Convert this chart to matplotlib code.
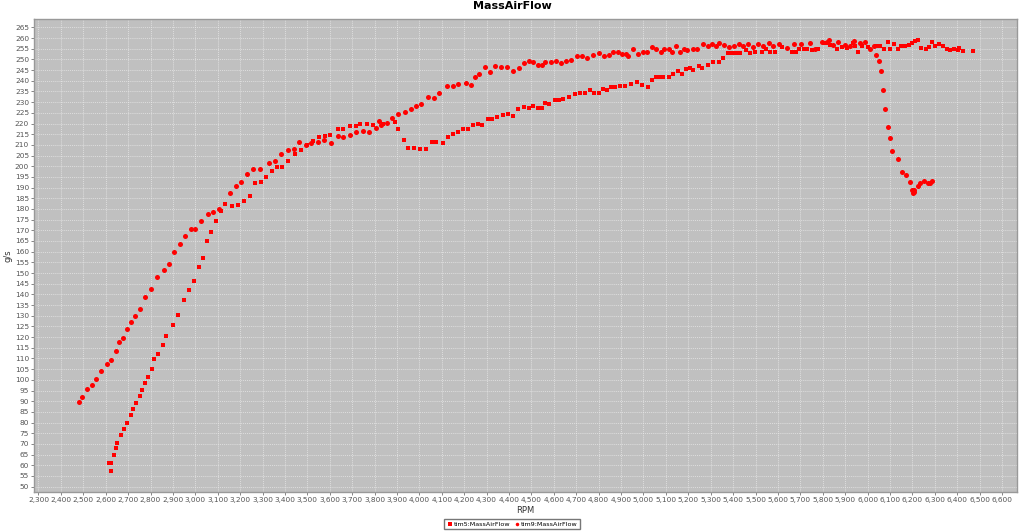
import matplotlib
matplotlib.use("Agg")
import matplotlib.pyplot as plt
from matplotlib.ticker import MultipleLocator, FuncFormatter

plt.rcParams["font.family"] = ["DejaVu Sans"]

# ── 数据───────────────────────────────────────────────────────────────
tim5_rpm = [2624, 2616, 2622, 2637, 2646, 2652, 2668, 2682, 2695, 2712, 2723, 2735,
            2752, 2764, 2775, 2787, 2805, 2816, 2834, 2854, 2871, 2900, 2923, 2948,
            2972, 2996, 3017, 3036, 3052, 3071, 3092, 3116, 3134, 3165, 3189, 3219,
            3244, 3268, 3293, 3316, 3341, 3365, 3388, 3415, 3444, 3472, 3497, 3524,
            3552, 3578, 3601, 3636, 3661, 3688, 3716, 3737, 3765, 3795, 3838, 3890,
            3903, 3930, 3951, 3977, 4003, 4028, 4055, 4076, 4104, 4127, 4152, 4174,
            4195, 4219, 4240, 4262, 4281, 4305, 4326, 4346, 4372, 4395, 4417, 4441,
            4466, 4488, 4508, 4527, 4545, 4562, 4580, 4606, 4621, 4640, 4667, 4694,
            4717, 4740, 4762, 4780, 4801, 4820, 4835, 4855, 4875, 4897, 4918, 4944,
            4969, 4993, 5018, 5038, 5054, 5072, 5089, 5112, 5133, 5152, 5171, 5190,
            5208, 5223, 5247, 5263, 5286, 5310, 5339, 5356, 5375, 5395, 5413, 5430,
            5456, 5475, 5497, 5527, 5545, 5565, 5586, 5618, 5663, 5680, 5692, 5718,
            5729, 5753, 5778, 5808, 5833, 5863, 5886, 5908, 5935, 5946, 5956, 5976,
            6000, 6042, 6054, 6075, 6091, 6101, 6119, 6134, 6149, 6168, 6183, 6198,
            6213, 6223, 6240, 6261, 6272, 6289, 6302, 6320, 6335, 6354, 6369, 6384,
            6402, 6409, 6426, 6470]
tim5_maf = [57.5, 61.0, 61.2, 65.0, 68.2, 70.4, 74.2, 77.0, 80.0, 83.7, 86.5, 89.2,
            92.4, 95.4, 98.7, 101.3, 104.9, 109.9, 112.1, 116.2, 120.7, 125.7, 130.2, 137.5,
            142.2, 146.3, 153.0, 157.2, 165.0, 169.2, 174.5, 179.2, 182.1, 181.5, 182.0, 183.8,
            186.0, 192.3, 192.7, 194.8, 197.7, 199.5, 199.5, 202.3, 205.5, 207.6, 209.9, 211.9,
            213.5, 214.1, 214.6, 217.2, 217.4, 218.8, 219.0, 220.0, 220.0, 219.4, 220.0, 220.5,
            217.5, 212.5, 208.6, 208.5, 208.2, 208.2, 211.4, 211.3, 210.8, 213.8, 215.0, 216.1,
            217.5, 217.2, 219.1, 219.9, 219.4, 222.2, 222.2, 222.9, 223.8, 224.3, 223.5, 226.7,
            227.7, 227.3, 228.1, 227.3, 227.3, 229.5, 228.9, 230.9, 230.9, 231.4, 232.3, 233.9,
            234.4, 234.1, 235.5, 234.4, 234.4, 236.2, 235.9, 237.2, 237.2, 237.6, 237.6, 238.6,
            239.4, 237.8, 237.2, 240.3, 241.6, 241.6, 241.7, 242.0, 243.0, 244.7, 243.4, 245.3,
            246.1, 245.2, 247.0, 246.1, 247.5, 248.9, 248.9, 250.5, 253.0, 253.1, 253.0, 253.0,
            254.4, 253.1, 253.6, 253.6, 254.7, 253.6, 253.6, 255.9, 253.6, 253.6, 255.1, 255.1,
            254.8, 254.5, 255.1, 257.8, 256.7, 255.1, 255.9, 255.4, 257.5, 256.4, 253.6, 256.4,
            255.9, 256.4, 256.4, 255.1, 258.0, 254.8, 257.0, 255.1, 256.4, 256.4, 256.7, 257.5,
            258.6, 259.2, 255.4, 254.8, 255.9, 258.0, 256.4, 257.0, 256.4, 254.8, 254.3, 254.8,
            254.3, 255.4, 253.9, 254.1]

tim9_rpm = [2479, 2496, 2518, 2539, 2557, 2579, 2606, 2624, 2646, 2661, 2677, 2696,
            2714, 2732, 2752, 2775, 2804, 2828, 2859, 2883, 2906, 2932, 2954, 2982,
            3000, 3025, 3055, 3080, 3107, 3156, 3180, 3204, 3231, 3258, 3290, 3328,
            3356, 3383, 3412, 3439, 3464, 3494, 3517, 3548, 3573, 3604, 3636, 3661,
            3690, 3717, 3747, 3777, 3807, 3819, 3828, 3857, 3878, 3906, 3936, 3962,
            3984, 4009, 4039, 4066, 4089, 4122, 4149, 4172, 4207, 4228, 4247, 4268,
            4293, 4316, 4337, 4366, 4392, 4417, 4444, 4467, 4488, 4508, 4527, 4546,
            4562, 4588, 4611, 4632, 4655, 4677, 4705, 4727, 4747, 4774, 4801, 4822,
            4846, 4864, 4886, 4902, 4923, 4933, 4955, 4975, 4997, 5015, 5040, 5058,
            5078, 5092, 5112, 5129, 5143, 5161, 5179, 5195, 5219, 5238, 5265, 5286,
            5307, 5325, 5338, 5361, 5380, 5402, 5424, 5445, 5468, 5490, 5512, 5535,
            5558, 5580, 5604, 5640, 5673, 5704, 5741, 5766, 5796, 5818, 5829, 5845,
            5866, 5898, 5923, 5941, 5968, 5987, 6012, 6027, 6036, 6051, 6061, 6067,
            6078, 6089, 6101, 6110, 6135, 6152, 6172, 6189, 6198, 6202, 6205, 6209,
            6223, 6235, 6250, 6269, 6277, 6287]
tim9_maf = [89.8, 92.1, 95.7, 97.7, 100.5, 104.3, 107.4, 109.3, 113.5, 117.6, 119.6, 123.8,
            126.9, 129.9, 133.2, 138.8, 142.7, 148.0, 151.5, 154.2, 160.0, 163.7, 167.3, 170.6,
            170.6, 174.3, 177.5, 178.5, 179.8, 187.4, 190.6, 192.7, 196.5, 198.5, 198.5, 201.6,
            202.4, 205.5, 207.7, 208.0, 211.2, 209.9, 210.7, 211.3, 212.2, 210.7, 214.1, 213.6,
            214.7, 216.1, 216.3, 216.1, 217.7, 221.0, 219.3, 220.3, 222.5, 224.3, 225.4, 226.8,
            228.0, 229.2, 232.2, 231.9, 234.2, 237.7, 237.5, 238.6, 239.0, 237.8, 241.7, 243.3,
            246.5, 243.9, 246.9, 246.4, 246.4, 244.8, 245.9, 248.1, 249.2, 248.9, 247.5, 247.5,
            248.8, 248.8, 249.1, 248.5, 249.1, 249.6, 251.5, 251.6, 250.5, 252.1, 253.2, 251.6,
            252.1, 253.6, 253.6, 252.7, 252.7, 251.8, 255.0, 252.5, 253.6, 253.6, 255.6, 255.0,
            253.4, 255.0, 255.1, 253.4, 256.5, 253.4, 255.0, 254.3, 254.7, 254.7, 257.0, 256.4,
            257.0, 256.1, 257.5, 256.6, 255.6, 256.4, 257.0, 256.5, 257.3, 256.0, 257.0, 256.4,
            257.5, 256.5, 257.0, 255.4, 257.2, 257.0, 257.8, 255.1, 258.0, 258.3, 259.0, 256.7,
            258.0, 256.7, 256.4, 258.6, 257.5, 258.0, 255.1, 256.4, 252.0, 249.3, 244.4, 235.5,
            226.9, 218.5, 213.3, 207.1, 203.3, 197.3, 195.9, 192.6, 188.8, 187.3, 188.0, 188.8,
            190.7, 192.3, 193.0, 192.3, 192.3, 193.0]

# ── 绘图 ──────────────────────────────────────────────────────────────────────
fig = plt.figure(figsize=(10.24, 5.32), dpi=100)
ax = fig.add_axes([0.0332, 0.0752, 0.96, 0.889])
ax.set_facecolor("#C0C0C0")

ax.scatter(tim5_rpm, tim5_maf, marker="s", s=11, c="#FF0000", linewidths=0,
           label="tim5:MassAirFlow", zorder=3)
ax.scatter(tim9_rpm, tim9_maf, marker="o", s=13, c="#FF0000", linewidths=0,
           label="tim9:MassAirFlow", zorder=3)

ax.set_xlim(2280, 6667)
ax.set_ylim(47.5, 268.9)
ax.xaxis.set_major_locator(MultipleLocator(100))
ax.yaxis.set_major_locator(MultipleLocator(5))
ax.xaxis.set_major_formatter(FuncFormatter(lambda v, p: f"{int(v):,}"))
ax.grid(True, color="#EEEEEE", linestyle=(0, (1.5, 1.5)), linewidth=0.5, alpha=0.9)
ax.set_axisbelow(True)
ax.tick_params(labelsize=5.3, colors="#555555", length=2, width=0.5, pad=1.5)
for s in ax.spines.values():
    s.set_color("#999999")
    s.set_linewidth(1.0)

ax.set_xlabel("RPM", fontsize=6, color="#333333", labelpad=2)
ax.set_ylabel("g/s", fontsize=6, color="#333333", labelpad=2)
fig.suptitle("MassAirFlow", fontsize=8, fontweight="bold", y=0.998)

fig.legend(loc="lower center", bbox_to_anchor=(0.5, 0.0), ncol=2, fontsize=4.6,
           frameon=True, fancybox=False, edgecolor="#555555", handletextpad=0.1,
           handlelength=1.0, columnspacing=0.6, markerscale=0.7, borderpad=0.35)

fig.savefig("out.png", dpi=100)
